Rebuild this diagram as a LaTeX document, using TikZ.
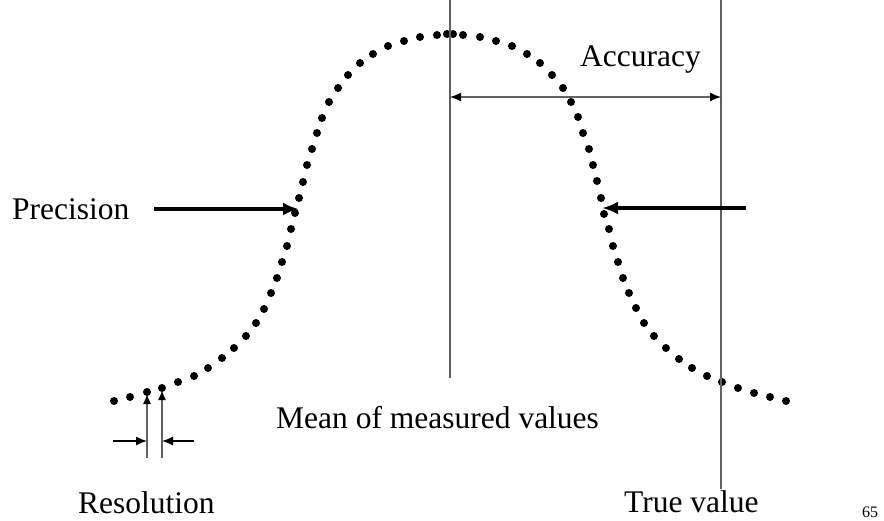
\documentclass[tikz,border=0pt]{standalone}
\usepackage{fontspec}
\setmainfont{Liberation Serif}
\usetikzlibrary{arrows.meta}

\tikzset{
    dot/.style={fill=black},
    guide/.style={draw=black!62, line width=1.4pt},
    lbl/.style={font=\fontsize{31.5}{36}\selectfont, inner sep=0pt, anchor=base west},
}

\begin{document}
\begin{tikzpicture}[x=1pt, y=-1pt]
    \useasboundingbox (0,0) rectangle (884,520);

    % The dotted distribution curve
    \foreach \x/\y in {114/401, 130/397, 147/392, 162/388, 178/382, 194/376, 208/368,
        222/358, 234/348, 246/336, 256/323, 264/309, 271/293, 277/278, 282/262,
        287/246, 291/229, 295/213, 299/198, 303/182, 307/165, 312/149, 317/133,
        322/118, 329/102, 338/88, 348/75, 360/63, 373/54, 388/46, 404/41, 420/37,
        437/35, 447/34, 453/34, 463/35, 480/37, 496/41, 512/46, 527/54, 540/63,
        552/75, 563/88, 571/102, 578/117, 583/133, 589/149, 593/165, 597/181,
        601/198, 604/214, 609/229, 613/246, 618/262, 623/278, 629/293, 636/308,
        644/323, 654/336, 666/348, 679/359, 692/368, 707/376, 722/382, 738/388,
        754/393, 770/397, 786/401} {
        \fill[dot] (\x,\y) circle (4);
    }

    % Mean and true value lines
    \coordinate (mean top) at (450,0);
    \coordinate (mean bot) at (450,378);
    \coordinate (true top) at (721,0);
    \coordinate (true bot) at (721,489);
    \draw[guide] (mean top) -- (mean bot);
    \draw[guide] (true top) -- (true bot);

    % Accuracy
    \coordinate (acc l) at (450,97);
    \coordinate (acc r) at (721,97);
    \draw[guide, {Latex[length=11pt,width=9pt,color=black]}-{Latex[length=11pt,width=9pt,color=black]}] (acc l) -- (acc r);
    \node[lbl] (accuracy) at (580,66) {Accuracy};

    % Precision arrows
    \coordinate (prec l start) at (154,209);
    \coordinate (prec l end) at (299,209);
    \coordinate (prec r start) at (746,208);
    \coordinate (prec r end) at (602,208);
    \draw[line width=3.2pt, -{Latex[length=16pt,width=13pt]}] (prec l start) -- (prec l end);
    \draw[line width=3.2pt, -{Latex[length=16pt,width=13pt]}] (prec r start) -- (prec r end);
    \node[lbl] (precision) at (12,219) {Precision};

    % Resolution
    \coordinate (res a bot) at (147,458);
    \coordinate (res a top) at (147,394);
    \coordinate (res b bot) at (162,458);
    \coordinate (res b top) at (162,390);
    \draw[guide, -{Latex[length=10pt,width=8pt,color=black]}] (res a bot) -- (res a top);
    \draw[guide, -{Latex[length=10pt,width=8pt,color=black]}] (res b bot) -- (res b top);
    \coordinate (res l) at (113,441);
    \coordinate (res r) at (194,441);
    \draw[line width=1.3pt, -{Latex[length=11pt,width=9pt]}] (res l) -- (147,441);
    \draw[line width=1.3pt, -{Latex[length=11pt,width=9pt]}] (res r) -- (162,441);
    \node[lbl] (resolution) at (78,513) {Resolution};

    % Bottom labels
    \node[lbl] (mean) at (276,428) {Mean of measured values};
    \node[lbl] (true) at (624,512) {True value};
    \node[font=\fontsize{16}{18}\selectfont, inner sep=0pt, anchor=base west] (page) at (862,517) {65};

\end{tikzpicture}
\end{document}
